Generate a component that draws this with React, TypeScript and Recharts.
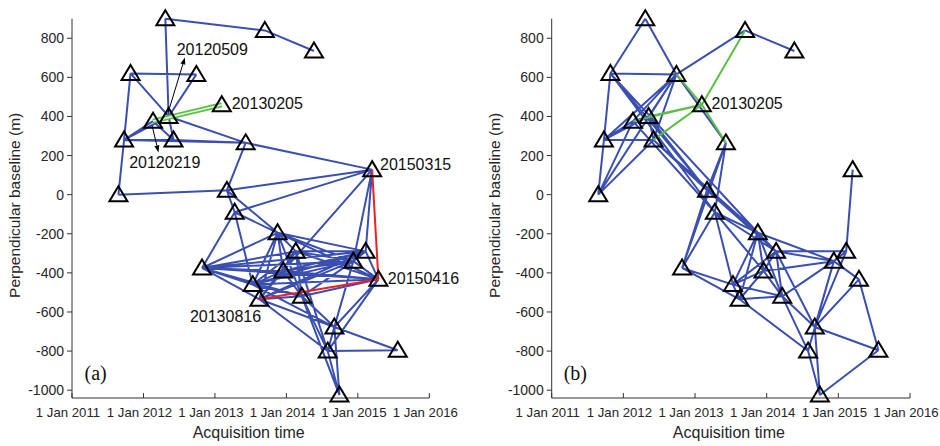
import React from 'react';
import { ComposedChart, Line, Scatter, XAxis, YAxis, ReferenceLine, Label } from 'recharts';

// acquisition dates (yyyymmdd) and perpendicular baselines (m)
const DATES = [
  '20110826', '20110924', '20111027', '20120219', '20120422', '20120509', '20120603', '20120928',
  '20121027', '20130205', '20130303', '20130412', '20130607', '20130713', '20130816', '20130913',
  '20131117', '20131216', '20140218', '20140321', '20140522', '20140731', '20140903', '20140929',
  '20141209', '20150210', '20150315', '20150416', '20150724',
];
const BASELINES = [
  0, 280, 620, 376, 900, 400, 280, 615,
  -375, 460, 22, -90, 265, -460, -535, 840,
  -195, -390, -290, -520, 735, -800, -677, -1025,
  -340, -290, 128, -433, -796,
];

// interferogram pairs (indices into DATES)
const EDGES_A = [
  [4, 15], [15, 20], [4, 5], [2, 7], [2, 1], [2, 5], [7, 5], [1, 3], [1, 5], [1, 6], [1, 12],
  [6, 12], [3, 6], [1, 0], [0, 10], [5, 6], [5, 12], [12, 26], [12, 10], [10, 26], [11, 26],
  [10, 11], [10, 16], [11, 16], [8, 11], [11, 13], [26, 17], [26, 24], [26, 25],
  [8, 13], [8, 14], [8, 16], [8, 17], [8, 18], [8, 19], [8, 24], [8, 25], [8, 27],
  [13, 16], [13, 17], [13, 18], [13, 19], [13, 24], [13, 25], [13, 27], [13, 22],
  [14, 16], [14, 17], [14, 18], [14, 24], [14, 25], [14, 19], [14, 22], [14, 21],
  [16, 17], [16, 18], [16, 19], [16, 24], [16, 25], [16, 27],
  [17, 18], [17, 24], [17, 25], [17, 27], [17, 19],
  [18, 24], [18, 25], [18, 27], [18, 19], [18, 21],
  [19, 24], [19, 27], [19, 22], [19, 21], [19, 23],
  [24, 25], [24, 27], [24, 22], [25, 27],
  [22, 27], [22, 28], [22, 23], [22, 21], [21, 28], [21, 23], [27, 21],
];
const RED_A = [[26, 27], [27, 14]];
const GREEN_A = [[3, 9]];

const EDGES_B = [
  [4, 2], [4, 7], [2, 7], [7, 15], [15, 20], [2, 1], [7, 0], [7, 1], [7, 3], [7, 5], [7, 6],
  [1, 0], [0, 3], [0, 6], [1, 3], [1, 5], [1, 6], [3, 5], [5, 6], [7, 12],
  [2, 10], [2, 11], [2, 16], [3, 11], [5, 10], [6, 10], [6, 16],
  [12, 10], [12, 11], [12, 8], [10, 8], [11, 8], [10, 16], [11, 16], [10, 18], [11, 18],
  [11, 13], [11, 17],
  [8, 13], [8, 14], [16, 13], [16, 14], [16, 17], [16, 19], [16, 18], [16, 24],
  [18, 25], [18, 24], [18, 17], [18, 13], [18, 19], [18, 22],
  [17, 24], [17, 13], [17, 14], [17, 19], [13, 19], [13, 14], [14, 19],
  [19, 24], [19, 22], [19, 21], [24, 25], [24, 27], [24, 22], [25, 22], [27, 22], [27, 28],
  [26, 25], [14, 21], [22, 28], [28, 23], [21, 23], [22, 23], [21, 24],
];
const GREEN_B = [[9, 3], [9, 5], [9, 15], [9, 6], [9, 12], [9, 7]];

const X_TICKS = [2011, 2012, 2013, 2014, 2015, 2016];
const Y_TICKS = [-1000, -800, -600, -400, -200, 0, 200, 400, 600, 800];

const NOTES_A = [
  { t: 2012.465, b: 743, text: '20120509' },
  { t: 2013.235, b: 467, text: '20130205' },
  { t: 2011.8, b: 167, text: '20120219' },
  { t: 2015.31, b: 155, text: '20150315' },
  { t: 2015.42, b: -425, text: '20150416' },
  { t: 2012.65, b: -621, text: '20130816' },
];
const NOTES_B = [{ t: 2013.23, b: 467, text: '20130205' }];
const ARROWS_A = [
  [{ x: 2012.345, y: 420 }, { x: 2012.58, y: 702 }],
  [{ x: 2012.12, y: 355 }, { x: 2012.21, y: 216 }],
];

const toYear = (s: string) => {
  const y = +s.slice(0, 4);
  const start = Date.UTC(y, 0, 1);
  const end = Date.UTC(y + 1, 0, 1);
  return y + (Date.UTC(y, +s.slice(4, 6) - 1, +s.slice(6, 8)) - start) / (end - start);
};

const POINTS = DATES.map((d, i) => ({ t: toYear(d), b: BASELINES[i] }));

const segs = (pairs: number[][]) =>
  pairs.flatMap(([a, c]) => [POINTS[a], POINTS[c], { t: POINTS[c].t, b: null }]);

const BLUE = '#3a4fb0';
const GREEN = '#5cbf45';
const RED = '#ee2020';
const AXIS = '#333';
const FONT = '"Liberation Sans", Arial, Helvetica, sans-serif';

const XTick = (p: any) => (
  <g>
    <line x1={p.x} y1={p.y} x2={p.x} y2={p.y - 5} stroke={AXIS} />
    <text x={p.x - 4} y={p.y + 19} textAnchor="middle" fontSize={13.2} fill="#262626" fontFamily={FONT}>
      {`1 Jan ${p.payload.value}`}
    </text>
  </g>
);

const YTick = (p: any) => (
  <g>
    <line x1={p.x} y1={p.y} x2={p.x - 5} y2={p.y} stroke={AXIS} />
    <text x={p.x - 8} y={p.y + 5} textAnchor="end" fontSize={14} fill="#262626" fontFamily={FONT}>
      {p.payload.value}
    </text>
  </g>
);

const Tri = (p: any) => (
  <path
    d={`M${p.cx},${p.cy - 8.5} L${p.cx + 9},${p.cy + 6.5} L${p.cx - 9},${p.cy + 6.5} Z`}
    fill="none"
    stroke="#000"
    strokeWidth={2}
    strokeLinejoin="miter"
  />
);

const Note = (p: any) => (
  <text x={p.cx} y={p.cy + 6} fontSize={16} fill="#111" fontFamily={FONT}>
    {p.payload.text}
  </text>
);

const Arrow = (p: any) => {
  const { x1, y1, x2, y2 } = p;
  const a = Math.atan2(y2 - y1, x2 - x1);
  const L = 7;
  const W = 2.5;
  const bx = x2 - L * Math.cos(a);
  const by = y2 - L * Math.sin(a);
  return (
    <g>
      <line x1={x1} y1={y1} x2={bx} y2={by} stroke="#000" strokeWidth={1} />
      <path
        d={`M${x2},${y2} L${bx + W * Math.sin(a)},${by - W * Math.cos(a)} L${bx - W * Math.sin(a)},${by + W * Math.cos(a)} Z`}
        fill="#000"
      />
    </g>
  );
};

interface PanelProps {
  edges: number[][];
  green: number[][];
  greenDouble: boolean;
  red: number[][];
  notes: { t: number; b: number; text: string }[];
  arrows: { x: number; y: number }[][];
  tag: string;
  axisWidth: number;
  right: number;
  yLabelX: number;
}

function Panel({ edges, green, greenDouble, red, notes, arrows, tag, axisWidth, right, yLabelX }: PanelProps) {
  return (
    <ComposedChart width={470} height={446} margin={{ top: 18.7, right, bottom: 0, left: 0 }}>
      <XAxis
        type="number"
        dataKey="t"
        domain={[2011, 2016]}
        ticks={X_TICKS}
        height={48}
        tickSize={0}
        tickMargin={0}
        tick={XTick}
        stroke={AXIS}
      >
        <Label
          content={(lp: any) => (
            <text
              x={lp.viewBox.x + lp.viewBox.width / 2 - 2}
              y={lp.viewBox.y + 40}
              textAnchor="middle"
              fontSize={16}
              fill="#262626"
              fontFamily={FONT}
            >
              Acquisition time
            </text>
          )}
        />
      </XAxis>
      <YAxis
        type="number"
        dataKey="b"
        domain={[-1040, 900]}
        ticks={Y_TICKS}
        width={axisWidth}
        tickSize={0}
        tickMargin={0}
        tick={YTick}
        stroke={AXIS}
      >
        <Label
          content={(lp: any) => {
            const cy = lp.viewBox.y + lp.viewBox.height / 2 - 3;
            return (
              <text
                x={yLabelX}
                y={cy}
                transform={`rotate(-90, ${yLabelX}, ${cy})`}
                textAnchor="middle"
                dominantBaseline="central"
                fontSize={15.5}
                fill="#262626"
                fontFamily={FONT}
              >
                Perpendicular baseline (m)
              </text>
            );
          }}
        />
      </YAxis>
      <Line data={segs(edges)} dataKey="b" stroke={BLUE} strokeWidth={2} dot={false} activeDot={false} isAnimationActive={false} />
      <Line
        data={segs(green)}
        dataKey="b"
        stroke={GREEN}
        strokeWidth={greenDouble ? 5 : 2}
        dot={false}
        activeDot={false}
        isAnimationActive={false}
      />
      {greenDouble && (
        <Line data={segs(green)} dataKey="b" stroke="#dff3d6" strokeWidth={1.6} dot={false} activeDot={false} isAnimationActive={false} />
      )}
      <Line data={segs(red)} dataKey="b" stroke={RED} strokeWidth={2} dot={false} activeDot={false} isAnimationActive={false} />
      <Scatter data={POINTS} shape={Tri} isAnimationActive={false} />
      <Scatter data={notes} shape={Note} isAnimationActive={false} />
      <Scatter
        data={[{ t: 2011.33, b: -914, text: tag }]}
        shape={(p: any) => (
          <text x={p.cx} y={p.cy + 7} textAnchor="middle" fontSize={20} fill="#111" fontFamily='"Liberation Serif", "Times New Roman", serif'>
            {p.payload.text}
          </text>
        )}
        isAnimationActive={false}
      />
      {arrows.map((seg, i) => (
        <ReferenceLine key={i} segment={seg} shape={Arrow} ifOverflow="visible" />
      ))}
    </ComposedChart>
  );
}

export default function App() {
  return (
    <div style={{ position: 'absolute', left: 0, top: 0, width: 940, height: 446, background: '#fff' }}>
      <div style={{ position: 'absolute', left: 0, top: 0 }}>
        <Panel edges={EDGES_A} green={GREEN_A} greenDouble red={RED_A} notes={NOTES_A} arrows={ARROWS_A} tag="(a)" axisWidth={72} right={40.7} yLabelX={15} />
      </div>
      <div style={{ position: 'absolute', left: 470, top: 0 }}>
        <Panel edges={EDGES_B} green={GREEN_B} greenDouble={false} red={[]} notes={NOTES_B} arrows={[]} tag="(b)" axisWidth={81.7} right={30} yLabelX={25} />
      </div>
    </div>
  );
}
